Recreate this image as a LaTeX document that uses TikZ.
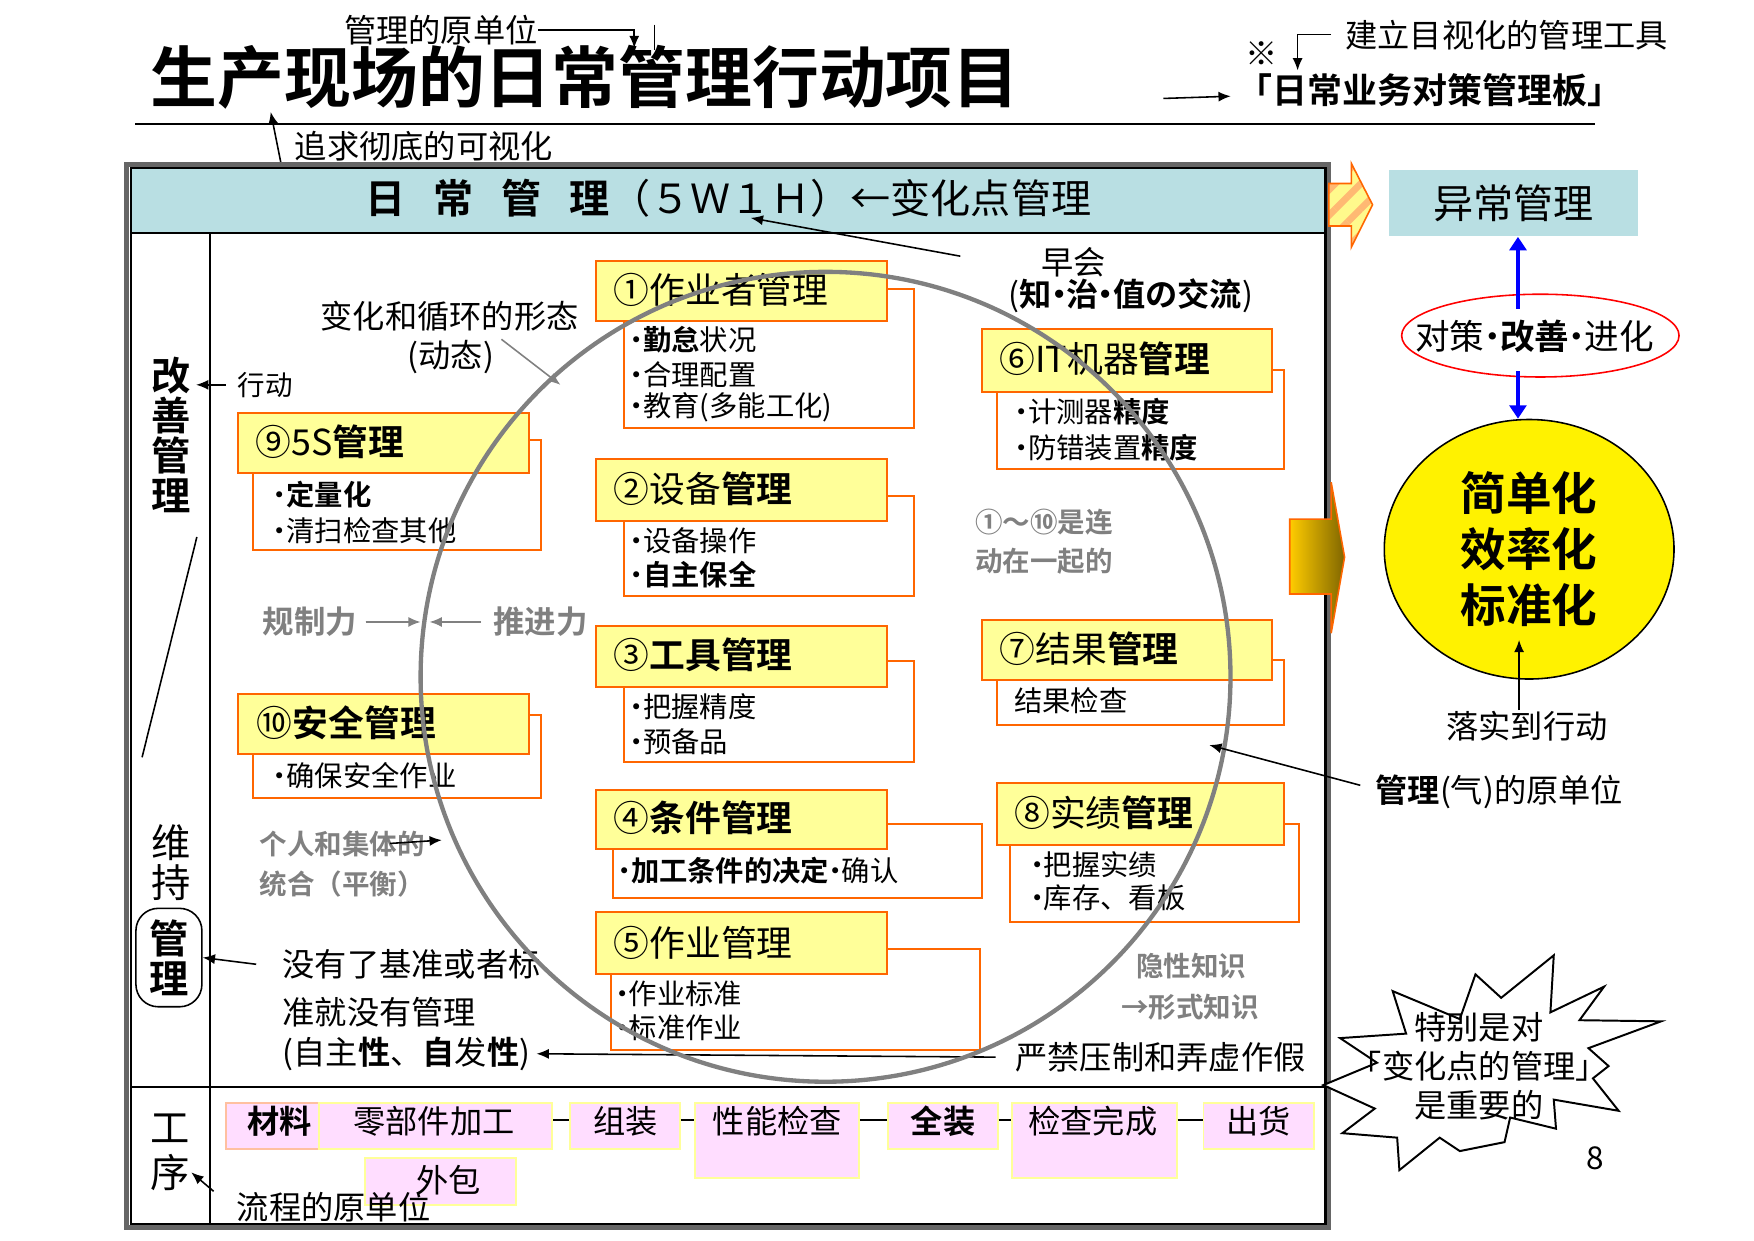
\documentclass[tikz,border=0pt]{standalone}
\usepackage{fontspec}
\setmainfont{Noto Sans CJK SC}[BoldFont={Noto Sans CJK SC Bold}]
\usetikzlibrary{arrows.meta,patterns.meta,shapes.geometric}
\definecolor{headblue}{HTML}{B9DFE3}
\definecolor{boxyellow}{HTML}{FFFF99}
\definecolor{boxorange}{HTML}{FF6600}
\definecolor{stagepink}{HTML}{FFDDFF}
\definecolor{stageline}{HTML}{FFFF99}
\definecolor{stagepeach}{HTML}{FFC0A0}
\definecolor{softgray}{HTML}{808080}
\definecolor{goldlight}{HTML}{FFCC00}
\definecolor{golddark}{HTML}{806600}
\newcommand{\boxline}{boxorange}
\newcommand{\thinline}{0.5pt}
\newcommand{\ringwidth}{1.1pt}
\newcommand{\titlefont}{\fontsize{17}{17}\selectfont}
\newcommand{\labelfont}{\fontsize{8.2}{8.2}\selectfont}
\newcommand{\bandfont}{\fontsize{10.2}{10.2}\selectfont}
\newcommand{\headfont}{\fontsize{9.1}{9.1}\selectfont}
\newcommand{\itemfont}{\fontsize{7.2}{7.2}\selectfont}
\newcommand{\grayfont}{\fontsize{7}{7}\selectfont}
\newcommand{\sidefont}{\fontsize{10}{10.2}\selectfont}
\newcommand{\dotmark}{\makebox[0.45em][c]{·}}

\begin{document}
\begin{tikzpicture}[x=0.1mm, y=-0.1mm,
  labeltext/.style={inner sep=0pt, font=\labelfont},
  graytext/.style={inner sep=0pt, text=softgray, font=\grayfont\bfseries},
  headbox/.style={draw=\boxline, fill=boxyellow, line width=\thinline},
  detailbox/.style={draw=\boxline, fill=white, line width=\thinline},
  headtext/.style={anchor=west, inner sep=0pt, font=\headfont},
  itemtext/.style={anchor=west, inner sep=0pt, font=\itemfont},
  stagebox/.style={fill=stagepink, draw=stageline, line width=0.5pt, inner sep=0pt, anchor=north west},
  stagetext/.style={inner sep=0pt, font=\labelfont},
  plainarrow/.style={-{Latex[length=1.1mm,width=0.9mm]}, line width=0.4pt},
  grayarrow/.style={-{Latex[length=1.1mm,width=0.9mm]}, line width=0.4pt, draw=softgray, fill=softgray},
  bluearrow/.style={-{Triangle[length=1.2mm,width=1.5mm]}, line width=1pt, draw=blue, fill=blue}]
\useasboundingbox (0,0) rectangle (1568,1109);
% title
\node[labeltext, anchor=west] (unitmgmt) at (307,27) {管理的原单位};
\coordinate (unittip) at (567,43);
\draw[plainarrow] (unitmgmt.east) -| (unittip);
\draw[line width=0.4pt] (585,22) -- (585,45);
\node[anchor=west, inner sep=0pt, font=\titlefont\bfseries] (title) at (134,69) {生产现场的日常管理行动项目};
\draw[line width=0.5pt] (121,111) -- (1426,111);
\node[labeltext, anchor=west] (visual) at (263,131) {追求彻底的可视化};
\coordinate (visualtip) at (242,100);
\draw[plainarrow] ([xshift=-1.2mm]visual.south west) -- (visualtip);
\node[labeltext, anchor=west] (toolnote) at (1202,31) {建立目视化的管理工具};
\node[inner sep=0pt, font=\labelfont] (kome) at (1128,48) {※};
\coordinate (boardtip) at (1160,63);
\draw[plainarrow] ([xshift=-1.2mm]toolnote.west) -| (boardtip);
\node[inner sep=0pt, font=\fontsize{8.9}{8.9}\selectfont\bfseries] (board) at (1278,81) {「日常业务对策管理板」};
\coordinate (boardfrom) at (1040,88);
\draw[plainarrow] (boardfrom) -- ([xshift=-0.5mm,yshift=-0.5mm]board.west);
% frame
\draw[black!60, line width=1.2pt] (113,147) rectangle (1188,1097);
\fill[headblue] (117,150) rectangle (1185,208);
\draw[line width=0.6pt] (117,150) rectangle (1185,1094);
\draw[line width=0.5pt] (117,208) -- (1185,208);
\draw[line width=0.5pt] (188,208) -- (188,1094);
\draw[line width=0.5pt] (117,972) -- (1185,972);
\node[anchor=west, inner sep=0pt, font=\bandfont] (daily) at (326,177) {\textbf{日\hspace{.7em}常\hspace{.7em}管\hspace{.7em}理}（５Ｗ１Ｈ）←变化点管理};
% left column
\node[align=center, inner sep=0pt, font=\sidefont\bfseries] (kaizen) at (153,389) {改\\善\\管\\理};
\node[inner sep=0pt, font=\fontsize{7}{7}\selectfont] (action) at (237,344) {行动};
\draw[plainarrow] ([xshift=-1mm]action.west) -- ([xshift=0.4mm]kaizen.east |- action);
\draw[line width=0.4pt] (176,480) -- (127,677);
\node[align=center, inner sep=0pt, font=\sidefont] (maintain) at (153,771) {维\\持};
\node[draw, rounded corners=2mm, align=center, inner sep=0pt, minimum width=5.9mm, minimum height=8.8mm, font=\sidefont\bfseries] (keepmgmt) at (151,856) {管\\理};
\node[align=center, inner sep=0pt, font=\fontsize{10}{11.4}\selectfont] (process) at (152,1030) {工\\序};
% boxes 1-5
\draw[detailbox] (558,258) rectangle (817,383);
\draw[headbox] (533,233) rectangle (793,287);
\node[headtext] (m1) at (548,259) {①作业者管理};
\node[itemtext] (m1a) at (563,304) {\dotmark\textbf{勤怠}状况};
\node[itemtext] (m1b) at (563,335) {\dotmark 合理配置};
\node[itemtext] (m1c) at (563,364) {\dotmark 教育(多能工化)};
\draw[detailbox] (558,443) rectangle (817,533);
\draw[headbox] (533,410) rectangle (793,466);
\node[headtext] (m2) at (548,437) {②设备\textbf{管理}};
\node[itemtext] (m2a) at (563,483) {\dotmark 设备操作};
\node[itemtext] (m2b) at (563,514) {\dotmark\textbf{自主保全}};
\draw[detailbox] (558,591) rectangle (817,681);
\draw[headbox] (533,560) rectangle (793,614);
\node[headtext] (m3) at (548,585) {③\textbf{工具管理}};
\node[itemtext] (m3a) at (563,632) {\dotmark 把握精度};
\node[itemtext] (m3b) at (563,663) {\dotmark 预备品};
\draw[detailbox] (548,737) rectangle (878,803);
\draw[headbox] (533,706) rectangle (793,759);
\node[headtext] (m4) at (548,731) {④\textbf{条件管理}};
\node[itemtext] (m4a) at (552,778) {\dotmark\textbf{加工条件的决定}\dotmark 确认};
\draw[detailbox] (546,848) rectangle (876,939);
\draw[headbox] (533,815) rectangle (793,871);
\node[headtext] (m5) at (548,843) {⑤作业管理};
\node[itemtext] (m5a) at (550,888) {\dotmark 作业标准};
\node[itemtext] (m5b) at (550,919) {\dotmark 标准作业};
% boxes 6-8
\draw[detailbox] (891,331) rectangle (1148,419);
\draw[headbox] (878,294) rectangle (1137,350);
\node[headtext] (m6) at (893,321) {⑥IT机器\textbf{管理}};
\node[itemtext] (m6a) at (907,368) {\dotmark 计测器\textbf{精度}};
\node[itemtext] (m6b) at (907,400) {\dotmark 防错装置\textbf{精度}};
\draw[detailbox] (891,590) rectangle (1148,648);
\draw[headbox] (878,554) rectangle (1137,608);
\node[headtext] (m7) at (893,580) {⑦结果\textbf{管理}};
\node[itemtext] (m7a) at (906,626) {结果检查};
\draw[detailbox] (903,737) rectangle (1161,824);
\draw[headbox] (891,700) rectangle (1148,755);
\node[headtext] (m8) at (906,727) {⑧实绩\textbf{管理}};
\node[itemtext] (m8a) at (921,773) {\dotmark 把握实绩};
\node[itemtext] (m8b) at (921,803) {\dotmark 库存、看板};
% boxes 9-10
\draw[detailbox] (226,393) rectangle (484,492);
\draw[headbox] (213,369) rectangle (473,423);
\node[headtext] (m9) at (228,395) {⑨5S\textbf{管理}};
\node[itemtext] (m9a) at (244,442) {\dotmark\textbf{定量化}};
\node[itemtext] (m9b) at (244,474) {\dotmark 清扫检查其他};
\draw[detailbox] (226,639) rectangle (484,713);
\draw[headbox] (213,620) rectangle (473,674);
\node[headtext] (m10) at (229,646) {⑩\textbf{安全管理}};
\node[itemtext] (m10a) at (244,693) {\dotmark 确保安全作业};
% free texts
\node[labeltext] (cycle1) at (402,283) {变化和循环的形态};
\node[labeltext] (cycle2) at (403,319) {(动态)};
\coordinate (cycletip) at (501,344);
\draw[grayarrow] ([xshift=0.6mm]cycle2.north east) -- (cycletip);
\node[labeltext] (morning1) at (960,234) {早会};
\node[labeltext] (morning2) at (1011,264) {(\textbf{知\dotmark 治\dotmark 值の交流})};
\draw[plainarrow] ([xshift=-7.2mm,yshift=0.5mm]morning1.west) -- ([xshift=2mm]daily.south);
\node[graytext, anchor=west] (linked1) at (871,467) {①～⑩是连};
\node[graytext, anchor=west] (linked2) at (871,502) {动在一起的};
\node[graytext, font=\fontsize{8}{8}\selectfont\bfseries] (restrain) at (277,556) {规制力};
\node[graytext, font=\fontsize{8}{8}\selectfont\bfseries] (push) at (483,556) {推进力};
\coordinate (ringwest) at (380,556);
\draw[grayarrow] ([xshift=0.7mm]restrain.east) -- ([xshift=-0.4mm]ringwest);
\draw[grayarrow] ([xshift=-1mm]push.west) -- ([xshift=0.4mm]ringwest);
\node[graytext] (team1) at (306,754) {个人和集体的};
\node[graytext] (team2) at (306,790) {统合（平衡）};
\coordinate (teamtip) at (395,751);
\draw[plainarrow] ([xshift=-3.2mm]team1.east) -- (teamtip);
\node[labeltext, anchor=west] (nostd1) at (252,862) {没有了基准或者标};
\node[labeltext, anchor=west] (nostd2) at (252,905) {准就没有管理};
\node[labeltext, anchor=west] (nostd3) at (252,942) {(自主\textbf{性}、\textbf{自}发\textbf{性})};
\draw[plainarrow] ([xshift=-2.3mm]nostd1.west) -- (keepmgmt.east);
\node[labeltext, anchor=west] (noforge) at (907,945) {严禁压制和弄虚作假};
\draw[plainarrow] ([xshift=-1.7mm]noforge.west) -- ([xshift=0.5mm]nostd3.east);
\node[graytext] (tacit1) at (1065,864) {隐性知识};
\node[graytext] (tacit2) at (1064,900) {→形式知识};
% process row
\coordinate (flowline) at (0,1001);
\node[stagebox, draw=stagepeach, minimum width=8.3mm, minimum height=4.1mm] (material) at (201,985) {};
\node[stagebox, minimum width=20.9mm, minimum height=4.1mm] (parts) at (284,985) {};
\node[stagebox, minimum width=9.8mm, minimum height=4.1mm] (assembly) at (509,985) {};
\node[stagebox, minimum width=14.7mm, minimum height=6.7mm] (perf) at (620,985) {};
\node[stagebox, minimum width=9.8mm, minimum height=4.1mm] (finalasm) at (793,985) {};
\node[stagebox, minimum width=14.7mm, minimum height=6.7mm] (done) at (904,985) {};
\node[stagebox, minimum width=9.9mm, minimum height=4.1mm] (ship) at (1075,985) {};
\node[stagebox, minimum width=13.5mm, minimum height=4.2mm] (outsrc) at (325,1034) {};
\node[stagetext, font=\labelfont\bfseries] (materialt) at (250,1002) {材料};
\node[stagetext] (partst) at (388,1002) {零部件加工};
\node[stagetext] (assemblyt) at (559,1002) {组装};
\node[stagetext] (perft) at (695,1002) {性能检查};
\node[stagetext, font=\labelfont\bfseries] (finalasmt) at (843,1002) {全装};
\node[stagetext] (donet) at (977,1002) {检查完成};
\node[stagetext] (shipt) at (1125,1002) {出货};
\node[stagetext] (outsrct) at (401,1055) {外包};
\draw (parts.east |- flowline) -- (assembly.west |- flowline);
\draw (assembly.east |- flowline) -- (perf.west |- flowline);
\draw (perf.east |- flowline) -- (finalasm.west |- flowline);
\draw (finalasm.east |- flowline) -- (done.west |- flowline);
\draw (done.east |- flowline) -- (ship.west |- flowline);
\node[labeltext, anchor=west] (flowunit) at (211,1079) {流程的原单位};
\coordinate (flowtip) at (171,1048);
\draw[plainarrow] ([xshift=-2mm]flowunit.north west) -- (flowtip);
% ring
\draw[softgray, line width=\ringwidth] (738,605) circle (362);
% right side
\path[preaction={fill=yellow!45}, pattern={Lines[angle=45,distance=1.6mm,line width=0.6mm]}, pattern color=orange!55, draw=boxorange, line width=0.4pt]
  (1188,164) -- (1208,164) -- (1208,146) -- (1227,183) -- (1208,221) -- (1208,202) -- (1188,202) -- cycle;
\node[fill=headblue, minimum width=22.2mm, minimum height=5.9mm, inner sep=0pt, font=\bandfont] (abnormal) at (1353,181.5) {异常管理};
\node[inner sep=0pt, font=\fontsize{8.8}{8.8}\selectfont] (measure) at (1372,301) {对策\dotmark\textbf{改善}\dotmark 进化};
\draw[red, line width=0.4pt] (1377,300) ellipse (124 and 37);
\node[ellipse, draw, fill=yellow, line width=0.4pt, minimum width=25.9mm, minimum height=23.2mm, inner sep=0pt, align=center, font=\fontsize{11.6}{14.2}\selectfont\bfseries] (simple) at (1367,491) {简单化\\效率化\\标准化};
\coordinate (measuretop) at (1357,276);
\coordinate (measurebot) at (1357,332);
\draw[bluearrow] (measuretop) -- (measuretop |- abnormal.south);
\draw[bluearrow] (measurebot) -- (measurebot |- simple.north);
\node[labeltext] (act) at (1365,649) {落实到行动};
\coordinate (acttip) at (1358,572);
\draw[plainarrow] (act.north -| acttip) -- (acttip);
\shade[left color=goldlight, right color=golddark, draw=boxorange, line width=0.4pt]
  (1153,464) -- (1190,464) -- (1190,431) -- (1202,498) -- (1190,566) -- (1190,531) -- (1153,531) -- cycle;
\node[labeltext, anchor=west] (qiunit) at (1229,708) {\textbf{管理}(气)的原单位};
\coordinate (qitip) at (1081,666);
\draw[plainarrow] ([xshift=-1.3mm,yshift=0.6mm]qiunit.west) -- (qitip);
% burst
\draw[fill=white, line width=0.5pt] (1198,928) -- (1257,924) -- (1245,886) -- (1305,911) -- (1319,871) -- (1342,892) -- (1389,854) -- (1386,905) -- (1434,882) -- (1412,912) -- (1485,913) -- (1420,937) -- (1438,953) -- (1424,964) -- (1447,993) -- (1389,983) -- (1391,1009) -- (1350,999) -- (1345,1021) -- (1305,1029) -- (1287,1017) -- (1251,1046) -- (1249,1017) -- (1200,1013) -- (1229,991) -- (1183,970) -- (1231,950) -- cycle;
\node[align=center, inner sep=0pt, font=\fontsize{8.2}{10}\selectfont] (special) at (1322,953) {特别是对\\「变化点的管理」\\是重要的};
\node[inner sep=0pt, font=\fontsize{8}{8}\selectfont] (page) at (1426,1035) {8};
\end{tikzpicture}
\end{document}
